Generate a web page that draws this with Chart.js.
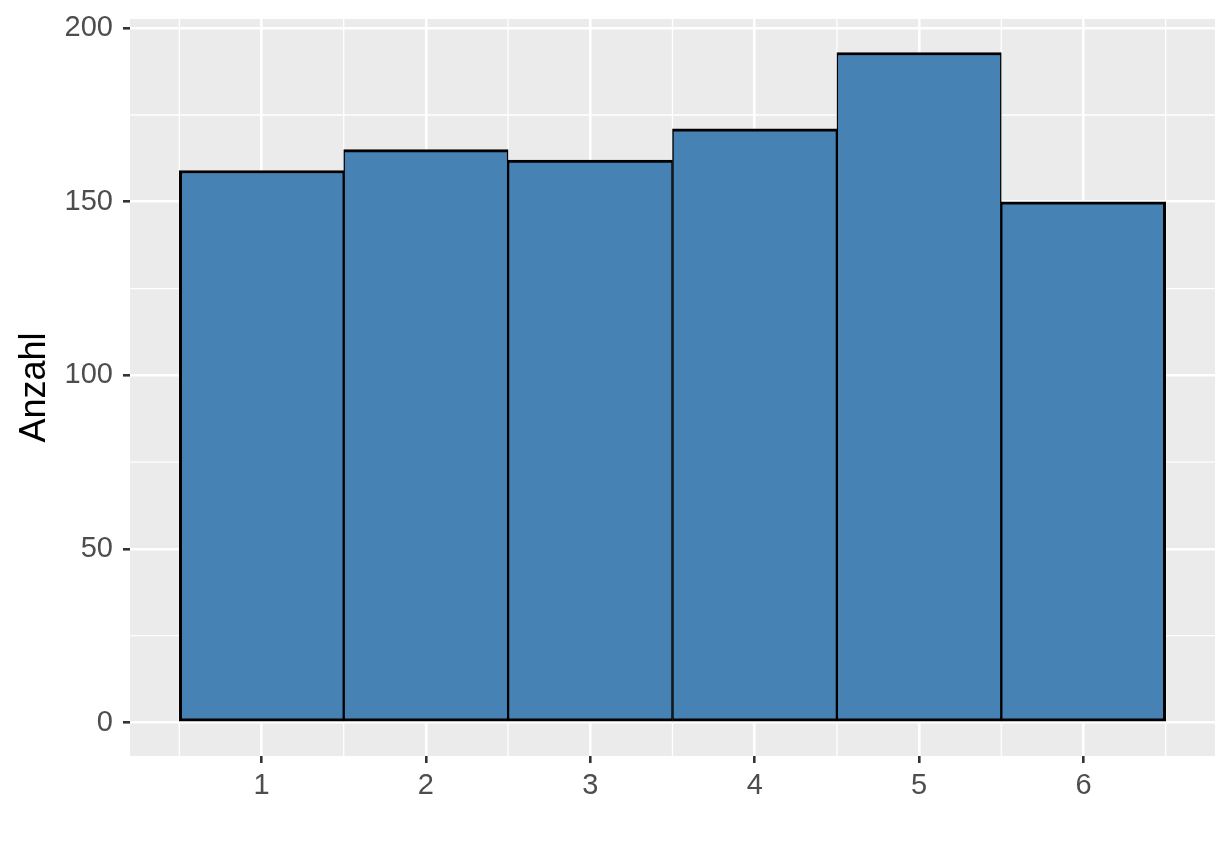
<!DOCTYPE html>
<html>
  <head>
    <title>Anzahl</title>
    <meta charset="utf-8" />
    <script src="https://cdn.jsdelivr.net/npm/chart.js@4.4.0/dist/chart.umd.min.js"></script>
    <style>
      body { margin: 0; background: #fff; }
      #wrap { width: 1232px; height: 864px; }
    </style>
  </head>
  <body>
    <div id="wrap"><canvas id="myChart" width="1232" height="864"></canvas></div>
    <script>
      const bins = [1, 2, 3, 4, 5, 6];
      const counts = [159, 165, 162, 171, 193, 150];
      const yTicks = [0, 50, 100, 150, 200];
      const yMinor = [25, 75, 125, 175];
      const xMinor = [0.5, 1.5, 2.5, 3.5, 4.5, 5.5, 6.5];

      // grey panel + thin minor grid lines, ggplot style
      const panelBg = {
        id: "panelBg",
        beforeDraw(chart) {
          const { ctx, chartArea: a, scales } = chart;
          ctx.save();
          ctx.fillStyle = "#EBEBEB";
          ctx.fillRect(a.left, a.top, a.right - a.left, a.bottom - a.top);
          ctx.strokeStyle = "#ffffff";
          ctx.lineWidth = 1.3;
          ctx.beginPath();
          xMinor.forEach(v => {
            const px = scales.x.getPixelForValue(v);
            ctx.moveTo(px, a.top);
            ctx.lineTo(px, a.bottom);
          });
          yMinor.forEach(v => {
            const py = scales.y.getPixelForValue(v);
            ctx.moveTo(a.left, py);
            ctx.lineTo(a.right, py);
          });
          ctx.stroke();
          ctx.restore();
        }
      };

      const last = counts.length - 1;
      const ctx = document.getElementById("myChart").getContext("2d");
      new Chart(ctx, {
        type: "bar",
        data: {
          datasets: [{
            data: bins.map((b, i) => ({ x: b, y: counts[i] })),
            backgroundColor: "#4682B4",
            borderColor: "#000000",
            borderWidth: c => ({
              top: 3,
              bottom: 3,
              left: c.dataIndex === 0 ? 3 : 1.5,
              right: c.dataIndex === last ? 3 : 1.5
            }),
            borderSkipped: false,
            barPercentage: 1,
            categoryPercentage: 1
          }]
        },
        options: {
          responsive: false,
          animation: false,
          layout: { padding: { top: 19, right: 17, left: 0, bottom: 0 } },
          plugins: { legend: { display: false }, tooltip: { enabled: false } },
          scales: {
            x: {
              type: "linear",
              min: 0.2,
              max: 6.8,
              offset: false,
              afterBuildTicks: s => { s.ticks = bins.map(v => ({ value: v })); },
              afterFit: s => { s.height = 108; s.paddingLeft = 0; s.paddingRight = 0; },
              border: { display: false },
              grid: { offset: false, color: "#ffffff", lineWidth: 2.6, tickColor: "#333333", tickLength: 7 },
              ticks: { color: "#4D4D4D", font: { family: "Liberation Sans", size: 29 }, padding: 6, maxRotation: 0 }
            },
            y: {
              min: -9.65,
              max: 202.65,
              afterBuildTicks: s => { s.ticks = yTicks.map(v => ({ value: v })); },
              afterFit: s => { s.width = 130; s.paddingTop = 0; s.paddingBottom = 0; },
              border: { display: false },
              grid: { color: "#ffffff", lineWidth: 2.6, tickColor: "#333333", tickLength: 7 },
              ticks: { color: "#4D4D4D", font: { family: "Liberation Sans", size: 29 }, padding: 10 },
              title: { display: true, text: "Anzahl", color: "#000000", font: { family: "Liberation Sans", size: 36 }, padding: { top: 13, bottom: 0 } }
            }
          }
        },
        plugins: [panelBg]
      });
    </script>
  </body>
</html>
